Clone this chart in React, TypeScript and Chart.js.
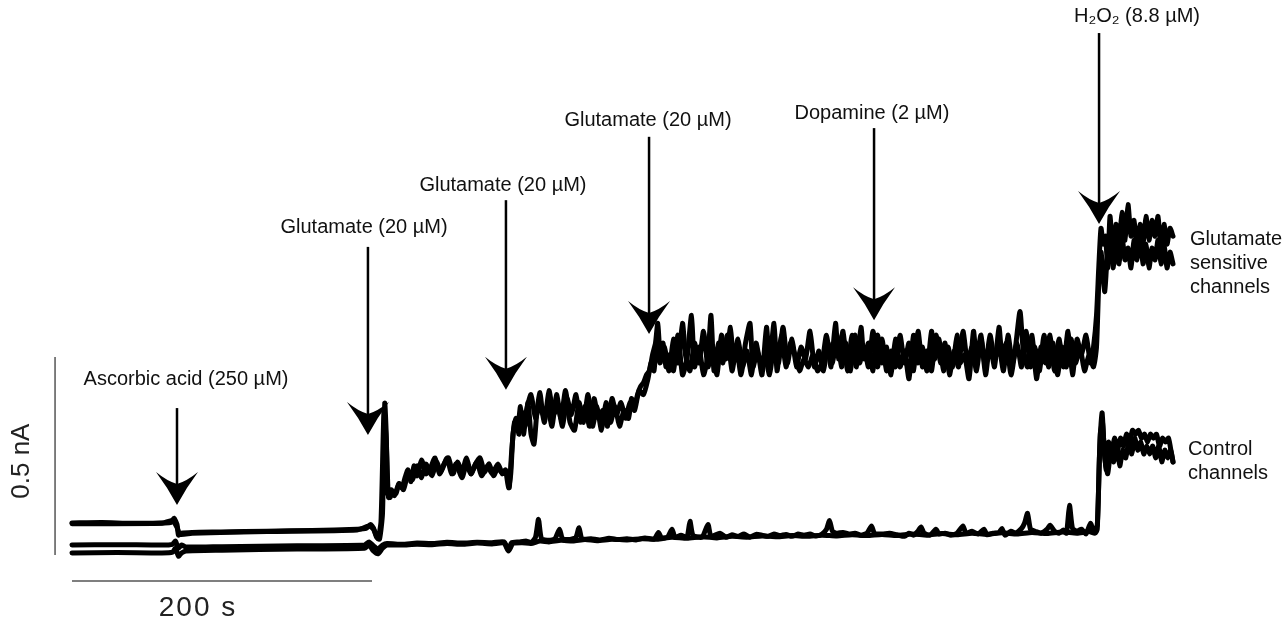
import React, { useEffect, useRef } from "react";
import { Chart, registerables } from "chart.js";

Chart.register(...registerables);

// ---------- data (time in s, current in nA) ----------
const glutSensitiveA: [number, number][] = [
  [0, 0.076], [20, 0.077], [40, 0.075], [60, 0.076], [66, 0.077], [68, 0.088], [70, 0.072], [71, 0.045], [73, 0.05],
  [80, 0.052], [100, 0.053], [130, 0.055], [160, 0.057], [190, 0.06], [196, 0.062], [199, 0.072], [201, 0.063],
  [203, 0.04], [205, 0.035], [207, 0.1], [208.5, 0.378], [209.5, 0.3], [210.5, 0.15], [212, 0.14], [214, 0.155],
  [216, 0.15], [218, 0.175], [220, 0.165], [222, 0.19], [224, 0.21], [226, 0.18], [228, 0.22], [230, 0.195],
  [233, 0.235], [236, 0.2], [239, 0.215], [242, 0.24], [245, 0.2], [248, 0.225], [251, 0.24], [254, 0.2],
  [257, 0.23], [260, 0.205], [263, 0.24], [266, 0.2], [269, 0.225], [272, 0.24], [275, 0.205], [278, 0.225],
  [281, 0.195], [284, 0.215], [287, 0.2], [289, 0.21], [291, 0.165], [292.5, 0.2], [294, 0.3], [296, 0.34],
  [298, 0.3], [300, 0.355], [302, 0.32], [304, 0.38], [306, 0.3], [308, 0.275], [310, 0.36], [312, 0.405],
  [314, 0.35], [317, 0.37], [320, 0.32], [323, 0.4], [326, 0.34], [329, 0.41], [332, 0.33], [335, 0.31],
  [338, 0.38], [341, 0.33], [344, 0.4], [347, 0.32], [350, 0.37], [353, 0.31], [356, 0.38], [359, 0.33],
  [362, 0.37], [365, 0.32], [368, 0.36], [371, 0.34], [373, 0.39], [375, 0.37], [377, 0.4], [379, 0.42],
  [381, 0.43], [383, 0.45], [385, 0.46], [387, 0.5], [389, 0.53], [390.5, 0.58], [392, 0.51], [394, 0.53],
  [396, 0.47], [398, 0.5], [401, 0.46], [404, 0.55], [407, 0.45], [410, 0.49], [413, 0.6], [415, 0.47],
  [418, 0.52], [421, 0.45], [424, 0.5], [426, 0.6], [428, 0.46], [431, 0.53], [434, 0.48], [437, 0.55],
  [440, 0.46], [443, 0.52], [446, 0.45], [449, 0.53], [452, 0.58], [454, 0.47], [457, 0.51], [460, 0.45],
  [463, 0.57], [465, 0.48], [468, 0.58], [470, 0.46], [473, 0.55], [476, 0.47], [479, 0.53], [482, 0.5],
  [485, 0.46], [488, 0.49], [491, 0.47], [494, 0.5], [497, 0.46], [500, 0.48], [503, 0.55], [506, 0.47],
  [509, 0.58], [511, 0.49], [514, 0.56], [517, 0.46], [520, 0.55], [523, 0.47], [526, 0.57], [528, 0.49],
  [531, 0.53], [534, 0.46], [537, 0.55], [540, 0.48], [543, 0.52], [546, 0.45], [549, 0.54], [552, 0.47],
  [555, 0.51], [558, 0.44], [561, 0.55], [564, 0.48], [567, 0.52], [570, 0.46], [573, 0.56], [575, 0.49],
  [578, 0.54], [581, 0.46], [584, 0.52], [587, 0.47], [590, 0.55], [592, 0.48], [595, 0.5], [598, 0.44],
  [601, 0.56], [603, 0.49], [606, 0.55], [609, 0.45], [612, 0.53], [615, 0.47], [618, 0.57], [620, 0.5],
  [623, 0.53], [626, 0.45], [629, 0.52], [632, 0.61], [634, 0.52], [637, 0.47], [640, 0.55], [643, 0.44],
  [646, 0.52], [649, 0.48], [652, 0.55], [655, 0.46], [658, 0.54], [661, 0.47], [664, 0.56], [667, 0.45],
  [670, 0.54], [673, 0.5], [676, 0.55], [679, 0.48], [681, 0.52], [683, 0.6], [684.5, 0.72], [686, 0.82],
  [687.5, 0.78], [689, 0.8], [690.5, 0.72], [692, 0.85], [694, 0.76], [696, 0.83], [698, 0.78], [700, 0.86],
  [702, 0.79], [704, 0.88], [706, 0.8], [708, 0.84], [710, 0.77], [712, 0.83], [714, 0.78], [716, 0.85],
  [718, 0.79], [720, 0.84], [722, 0.8], [724, 0.85], [726, 0.77], [728, 0.83], [730, 0.78], [732, 0.82], [734, 0.8],
];

const glutSensitiveB: [number, number][] = [
  [0, 0.074], [60, 0.075], [67, 0.082], [70, 0.065], [72, 0.047], [80, 0.05], [130, 0.054], [190, 0.058],
  [198, 0.068], [201, 0.06], [204, 0.037], [206, 0.08], [208, 0.36], [209.5, 0.28], [211, 0.14], [213, 0.16],
  [215, 0.145], [218, 0.175], [221, 0.16], [224, 0.2], [227, 0.185], [230, 0.22], [233, 0.19], [236, 0.225],
  [240, 0.195], [243, 0.23], [246, 0.205], [250, 0.24], [253, 0.2], [256, 0.225], [260, 0.19], [263, 0.225],
  [266, 0.2], [270, 0.23], [273, 0.195], [277, 0.22], [280, 0.2], [284, 0.225], [287, 0.2], [290, 0.205],
  [291.5, 0.165], [293, 0.25], [295, 0.33], [297, 0.31], [299, 0.37], [301, 0.3], [303, 0.36], [306, 0.4],
  [309, 0.34], [312, 0.38], [315, 0.33], [318, 0.41], [321, 0.35], [324, 0.37], [327, 0.32], [330, 0.39],
  [333, 0.35], [336, 0.4], [339, 0.33], [342, 0.37], [345, 0.32], [348, 0.39], [351, 0.34], [354, 0.36],
  [357, 0.32], [360, 0.39], [363, 0.35], [366, 0.38], [369, 0.34], [372, 0.38], [375, 0.36], [378, 0.41],
  [381, 0.4], [384, 0.44], [386, 0.48], [388, 0.46], [390, 0.55], [392, 0.48], [395, 0.52], [398, 0.46],
  [401, 0.54], [404, 0.48], [407, 0.58], [409, 0.5], [412, 0.46], [415, 0.53], [418, 0.48], [421, 0.56],
  [424, 0.47], [427, 0.52], [430, 0.45], [433, 0.55], [436, 0.49], [439, 0.57], [441, 0.48], [444, 0.54],
  [447, 0.47], [450, 0.51], [453, 0.45], [456, 0.53], [459, 0.48], [462, 0.5], [465, 0.45], [468, 0.52],
  [471, 0.48], [474, 0.57], [477, 0.48], [480, 0.54], [483, 0.47], [486, 0.52], [489, 0.49], [492, 0.56],
  [495, 0.47], [498, 0.51], [501, 0.46], [504, 0.53], [507, 0.48], [510, 0.55], [513, 0.47], [516, 0.53],
  [519, 0.46], [522, 0.55], [525, 0.48], [528, 0.52], [531, 0.47], [534, 0.56], [537, 0.47], [540, 0.54],
  [543, 0.46], [546, 0.51], [549, 0.47], [552, 0.55], [555, 0.48], [558, 0.53], [561, 0.46], [564, 0.56],
  [567, 0.47], [570, 0.51], [573, 0.46], [576, 0.55], [579, 0.48], [582, 0.53], [585, 0.45], [588, 0.51],
  [591, 0.47], [594, 0.56], [597, 0.48], [600, 0.52], [603, 0.46], [606, 0.54], [609, 0.47], [612, 0.55],
  [615, 0.49], [618, 0.52], [621, 0.46], [624, 0.55], [627, 0.48], [630, 0.53], [633, 0.47], [636, 0.56],
  [639, 0.47], [642, 0.52], [645, 0.46], [648, 0.55], [651, 0.47], [654, 0.53], [657, 0.45], [660, 0.52],
  [663, 0.47], [666, 0.54], [669, 0.48], [672, 0.52], [675, 0.46], [678, 0.5], [681, 0.47], [683, 0.52],
  [684.5, 0.68], [686, 0.76], [687, 0.72], [688.5, 0.66], [690, 0.74], [692, 0.79], [694, 0.72], [696, 0.78],
  [698, 0.73], [700, 0.8], [702, 0.74], [704, 0.77], [706, 0.72], [708, 0.79], [710, 0.74], [712, 0.8],
  [714, 0.73], [716, 0.78], [718, 0.72], [720, 0.77], [722, 0.74], [724, 0.79], [726, 0.73], [728, 0.78],
  [730, 0.72], [732, 0.76], [734, 0.73],
];

const controlA: [number, number][] = [
  [0, 0.02], [30, 0.021], [60, 0.02], [67, 0.022], [69, 0.03], [71, 0.012], [73, 0.02], [76, 0.015],
  [100, 0.016], [150, 0.018], [195, 0.02], [198, 0.028], [201, 0.018], [204, 0.01], [207, 0.02], [210, 0.024],
  [220, 0.022], [230, 0.025], [240, 0.024], [250, 0.027], [260, 0.025], [270, 0.027], [280, 0.026], [288, 0.028],
  [291, 0.008], [293, 0.026], [298, 0.028], [303, 0.03], [306, 0.026], [309, 0.04], [311, 0.085], [313, 0.036],
  [318, 0.032], [322, 0.036], [325, 0.06], [327, 0.036], [332, 0.034], [336, 0.04], [338, 0.064], [340, 0.036],
  [346, 0.036], [352, 0.033], [358, 0.037], [364, 0.034], [370, 0.036], [376, 0.033], [382, 0.038], [388, 0.035],
  [391, 0.052], [393, 0.038], [397, 0.04], [400, 0.06], [402, 0.04], [406, 0.045], [410, 0.04], [412, 0.08],
  [414, 0.045], [420, 0.04], [424, 0.072], [426, 0.042], [432, 0.05], [436, 0.04], [440, 0.046], [444, 0.042],
  [448, 0.048], [452, 0.04], [456, 0.047], [460, 0.045], [464, 0.042], [468, 0.048], [472, 0.044], [476, 0.047],
  [480, 0.042], [484, 0.048], [488, 0.045], [492, 0.048], [496, 0.043], [500, 0.048], [503, 0.06], [505, 0.082],
  [507, 0.055], [510, 0.05], [514, 0.052], [518, 0.048], [522, 0.05], [526, 0.045], [530, 0.05], [533, 0.068],
  [535, 0.05], [540, 0.048], [545, 0.05], [550, 0.046], [555, 0.042], [558, 0.05], [561, 0.045], [564, 0.055],
  [566, 0.066], [568, 0.05], [572, 0.045], [576, 0.06], [578, 0.048], [582, 0.05], [586, 0.045], [590, 0.05],
  [594, 0.068], [596, 0.05], [600, 0.055], [604, 0.048], [608, 0.06], [610, 0.046], [614, 0.05], [618, 0.052],
  [620, 0.062], [622, 0.045], [626, 0.055], [629, 0.05], [633, 0.062], [635, 0.075], [637, 0.1], [639, 0.06],
  [642, 0.055], [646, 0.05], [650, 0.06], [652, 0.07], [655, 0.055], [658, 0.05], [661, 0.058], [663, 0.05],
  [665, 0.12], [667, 0.062], [670, 0.055], [673, 0.06], [676, 0.048], [679, 0.075], [681, 0.055], [683.5, 0.07],
  [685, 0.25], [686.7, 0.354], [688, 0.27], [689.5, 0.21], [691, 0.28], [693, 0.25], [695, 0.29], [697, 0.26],
  [699, 0.29], [701, 0.27], [703, 0.3], [705, 0.28], [707, 0.31], [709, 0.3], [711, 0.31], [713, 0.29],
  [715, 0.3], [717, 0.28], [719, 0.3], [721, 0.29], [723, 0.3], [725, 0.27], [727, 0.29], [729, 0.28],
  [731, 0.29], [733, 0.25], [734, 0.23],
];

const controlB: [number, number][] = [
  [0, 0.0], [30, 0.001], [60, 0.0], [67, 0.002], [69, 0.012], [71, -0.008], [73, 0.0], [76, 0.005], [100, 0.007],
  [150, 0.01], [195, 0.012], [198, 0.02], [201, 0.005], [204, -0.002], [207, 0.012], [210, 0.02], [220, 0.02],
  [230, 0.022], [240, 0.021], [250, 0.024], [260, 0.022], [270, 0.025], [280, 0.023], [288, 0.025], [291, 0.005],
  [294, 0.024], [300, 0.026], [306, 0.024], [312, 0.03], [318, 0.028], [326, 0.032], [334, 0.03], [342, 0.034],
  [350, 0.031], [360, 0.035], [370, 0.033], [380, 0.036], [390, 0.035], [400, 0.04], [410, 0.037], [420, 0.041],
  [430, 0.038], [440, 0.042], [450, 0.04], [460, 0.043], [470, 0.041], [480, 0.044], [490, 0.042], [500, 0.045],
  [510, 0.043], [520, 0.046], [530, 0.044], [540, 0.047], [550, 0.044], [560, 0.048], [570, 0.045], [580, 0.049],
  [590, 0.046], [600, 0.05], [610, 0.047], [620, 0.051], [630, 0.048], [640, 0.052], [650, 0.049], [660, 0.053],
  [670, 0.05], [678, 0.054], [682, 0.05], [683.5, 0.06], [685.5, 0.3], [687, 0.33], [688.5, 0.24], [690.5, 0.2],
  [692.5, 0.26], [694.5, 0.23], [696.5, 0.27], [698.5, 0.22], [700.5, 0.26], [702.5, 0.24], [704.5, 0.28],
  [706.5, 0.25], [708.5, 0.29], [710.5, 0.26], [712.5, 0.28], [714.5, 0.25], [716.5, 0.27], [718.5, 0.25],
  [720.5, 0.27], [722.5, 0.24], [724.5, 0.27], [726.5, 0.23], [728.5, 0.26], [730.5, 0.24], [732.5, 0.26], [734, 0.23],
];

// ---------- injection events ----------
const eventLabels = [
  "Ascorbic acid (250 µM)",
  "Glutamate (20 µM)",
  "Glutamate (20 µM)",
  "Glutamate (20 µM)",
  "Dopamine (2 µM)",
  "H₂O₂ (8.8 µM)",
];
const eventTimes = [70, 197.3, 289.3, 384.7, 534.7, 684.7];
const arrowTipNA = [0.121, 0.298, 0.412, 0.553, 0.588, 0.831];
const arrowTopNA = [0.366, 0.773, 0.891, 1.051, 1.073, 1.313];
const labelTimes = [76, 194.7, 287.3, 384, 533.3, 710];
const labelNA = [0.437, 0.821, 0.929, 1.091, 1.109, 1.354];

// ---------- trace labels ----------
const traceLabelLines = [["Glutamate", "sensitive", "channels"], ["Control", "channels"]];
const traceLabelTimes = [745.3, 744];
const traceLabelNA = [0.73, 0.232];

// ---------- scale bars ----------
const scaleBarSeconds = 200;
const scaleBarNA = 0.5;
const scaleBarStartTime = 0;
const scaleBarTimeBarNA = -0.0707;
const scaleBarCurrentTime = -11.3;
const scaleBarCurrentStartNA = -0.005;
const scaleLabelTimeText = "200 s";
const scaleLabelCurrentText = "0.5 nA";
const scaleLabelTimePos = [84, -0.139];
const scaleLabelCurrentPos = [-33.3, 0.232];

// axis ranges
const X_MIN = -48;
const X_MAX = 810;
const Y_MAX = 553 / 396;
const Y_MIN = Y_MAX - 626 / 396;

const FONT_FAMILY = '"Liberation Sans", Arial, Helvetica, sans-serif';

function drawArrow(ctx: CanvasRenderingContext2D, x: number, top: number, tip: number) {
  ctx.save();
  ctx.strokeStyle = "#000";
  ctx.lineWidth = 2.5;
  ctx.beginPath();
  ctx.moveTo(x, top);
  ctx.lineTo(x, tip - 18);
  ctx.stroke();
  ctx.fillStyle = "#000";
  ctx.beginPath();
  ctx.moveTo(x, tip);
  ctx.quadraticCurveTo(x - 9, tip - 17, x - 21, tip - 33);
  ctx.quadraticCurveTo(x - 10, tip - 24, x, tip - 21);
  ctx.quadraticCurveTo(x + 10, tip - 24, x + 21, tip - 33);
  ctx.quadraticCurveTo(x + 9, tip - 17, x, tip);
  ctx.closePath();
  ctx.fill();
  ctx.restore();
}

const annotationPlugin = {
  id: "traceAnnotations",
  afterDatasetsDraw(chart: any) {
    const ctx: CanvasRenderingContext2D = chart.ctx;
    const xs = chart.scales.x;
    const ys = chart.scales.y;
    const px = (t: number) => xs.getPixelForValue(t);
    const py = (v: number) => ys.getPixelForValue(v);

    // scale bars
    ctx.save();
    ctx.strokeStyle = "#555";
    ctx.lineWidth = 1.5;
    ctx.beginPath();
    ctx.moveTo(px(scaleBarStartTime), py(scaleBarTimeBarNA));
    ctx.lineTo(px(scaleBarStartTime + scaleBarSeconds), py(scaleBarTimeBarNA));
    ctx.moveTo(px(scaleBarCurrentTime), py(scaleBarCurrentStartNA));
    ctx.lineTo(px(scaleBarCurrentTime), py(scaleBarCurrentStartNA + scaleBarNA));
    ctx.stroke();

    ctx.fillStyle = "#222";
    ctx.textAlign = "center";
    ctx.textBaseline = "middle";
    ctx.font = `28px ${FONT_FAMILY}`;
    (ctx as any).letterSpacing = "2px";
    ctx.fillText(scaleLabelTimeText, px(scaleLabelTimePos[0]), py(scaleLabelTimePos[1]));
    (ctx as any).letterSpacing = "0px";
    ctx.font = `26px ${FONT_FAMILY}`;
    ctx.save();
    ctx.translate(px(scaleLabelCurrentPos[0]), py(scaleLabelCurrentPos[1]));
    ctx.rotate(-Math.PI / 2);
    ctx.fillText(scaleLabelCurrentText, 0, 0);
    ctx.restore();
    ctx.restore();

    // arrows + labels
    for (let i = 0; i < eventLabels.length; i++) {
      drawArrow(ctx, px(eventTimes[i]), py(arrowTopNA[i]), py(arrowTipNA[i]));
      ctx.save();
      ctx.fillStyle = "#111";
      ctx.font = `20px ${FONT_FAMILY}`;
      ctx.textAlign = "center";
      ctx.textBaseline = "middle";
      ctx.fillText(eventLabels[i], px(labelTimes[i]), py(labelNA[i]));
      ctx.restore();
    }

    // trace labels
    ctx.save();
    ctx.fillStyle = "#111";
    ctx.font = `20px ${FONT_FAMILY}`;
    ctx.textAlign = "left";
    ctx.textBaseline = "middle";
    for (let i = 0; i < traceLabelLines.length; i++) {
      const lines = traceLabelLines[i];
      const cy = py(traceLabelNA[i]);
      const lh = 24;
      lines.forEach((ln, j) => {
        ctx.fillText(ln, px(traceLabelTimes[i]), cy + (j - (lines.length - 1) / 2) * lh);
      });
    }
    ctx.restore();
  },
};

const traceDataset = (pts: [number, number][]) => ({
  data: pts.map(([x, y]) => ({ x, y })),
  borderColor: "#000",
  borderWidth: 5,
  pointRadius: 0,
  tension: 0.2,
  borderJoinStyle: "round" as const,
  borderCapStyle: "round" as const,
  fill: false,
  clip: false as any,
});

export default function App() {
  const ref = useRef<HTMLCanvasElement | null>(null);
  useEffect(() => {
    if (!ref.current) return;
    const chart = new Chart(ref.current, {
      type: "line",
      data: {
        datasets: [
          traceDataset(controlB),
          traceDataset(controlA),
          traceDataset(glutSensitiveB),
          traceDataset(glutSensitiveA),
        ],
      },
      options: {
        animation: false,
        responsive: false,
        devicePixelRatio: 1,
        layout: { padding: 0, autoPadding: false },
        plugins: { legend: { display: false }, tooltip: { enabled: false } },
        scales: {
          x: { type: "linear", display: false, min: X_MIN, max: X_MAX },
          y: { type: "linear", display: false, min: Y_MIN, max: Y_MAX },
        },
      },
      plugins: [annotationPlugin],
    } as any);
    return () => chart.destroy();
  }, []);
  return (
    <div style={{ position: "fixed", left: 0, top: 0, width: 1287, height: 626, background: "#fff" }}>
      <canvas ref={ref} width={1287} height={626} style={{ width: 1287, height: 626, display: "block" }} />
    </div>
  );
}
